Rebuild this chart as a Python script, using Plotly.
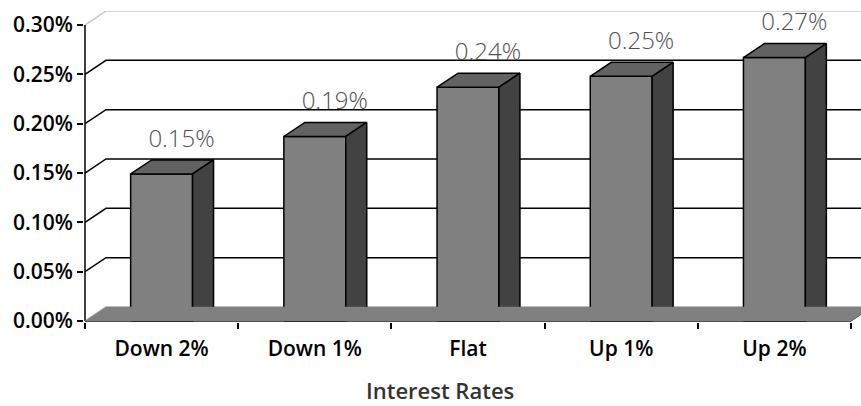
import plotly.graph_objects as go

categories = ["Down 2%", "Down 1%", "Flat", "Up 1%", "Up 2%"]
values = [0.149, 0.187, 0.237, 0.248, 0.267]   # percent
y_ticks = [0.00, 0.05, 0.10, 0.15, 0.20, 0.25, 0.30]
x_title = "Interest Rates"

# ---- geometry (data units) ----
DX = 0.137      # depth offset along x (category units)
DY = 0.0142     # depth offset along y (percent units)
HW = 0.202      # half bar width
X0, X1 = -0.5, len(categories) - 0.5

FRONT = "#808080"
TOP = "#626262"
SIDE = "#424242"
EDGE = "black"
LIGHT = "#c8c8c8"

fig = go.Figure()

def poly(xs, ys, fill, line_color=EDGE, width=1.5, xaxis="x"):
    fig.add_trace(go.Scatter(
        x=xs + [xs[0]], y=ys + [ys[0]], mode="lines", fill="toself",
        fillcolor=fill, line=dict(color=line_color, width=width),
        hoverinfo="skip", showlegend=False, xaxis=xaxis))

def line(xs, ys, color=EDGE, width=1.5):
    fig.add_trace(go.Scatter(x=xs, y=ys, mode="lines",
                             line=dict(color=color, width=width),
                             hoverinfo="skip", showlegend=False))

# floor
poly([X0, X1, X1 + DX, X0 + DX], [0, 0, DY, DY], FRONT, line_color=FRONT, width=0.5, xaxis="x2")

# gridlines (side wall diagonal + back wall)
for t in y_ticks:
    col = LIGHT if (t == y_ticks[0] or t == y_ticks[-1]) else EDGE
    line([X0, X0 + DX, X1 + DX + 0.2], [t, t + DY, t + DY], color=col,
         width=1.5)

# bars
for i, v in enumerate(values):
    poly([i - HW, i + HW, i + HW, i - HW], [0, 0, v, v], FRONT)
    poly([i - HW, i + HW, i + HW + DX, i - HW + DX], [v, v, v + DY, v + DY], TOP)
    poly([i + HW, i + HW + DX, i + HW + DX, i + HW], [0, DY, v + DY, v], SIDE)

# value labels
fig.add_trace(go.Scatter(
    x=[i + 0.13 for i in range(len(values))],
    y=[v + DY + 0.0075 for v in values],
    mode="text", text=[f"{v:.2f}%" for v in values],
    textposition="top center",
    textfont=dict(family="Open Sans", size=24, color="#505050", weight=300),
    hoverinfo="skip", showlegend=False, cliponaxis=False))

# front axis lines
line([X0, X0], [0, y_ticks[-1]])
line([X0, X1], [0, 0])
line([X1, X1 + DX], [0, DY], width=1)

tickfont = dict(family="Open Sans", size=21, color="black", weight=600)

fig.update_layout(
    width=861, height=406,
    margin=dict(l=84, r=0, t=11, b=84),
    paper_bgcolor="white", plot_bgcolor="white",
    xaxis=dict(range=[X0 - 0.0065, X1 + 0.0652], showgrid=False, zeroline=False,
               showline=False, tickmode="array",
               tickvals=[i - 0.5 for i in range(len(categories) + 1)],
               ticks="outside", ticklen=6, tickwidth=1.5, tickcolor="black",
               showticklabels=False),
    xaxis2=dict(range=[X0 - 0.0065, X1 + 0.0652], overlaying="x", anchor="y",
                side="bottom", showgrid=False, zeroline=False, showline=False,
                tickmode="array", tickvals=list(range(len(categories))),
                ticktext=categories, ticks="", tickfont=tickfont,
                ticklabelstandoff=12),
    yaxis=dict(range=[-0.00101, y_ticks[-1] + DY], showgrid=False, zeroline=False,
               showline=False, tickmode="array", tickvals=y_ticks,
               ticktext=[f"{t:.2f}%" for t in y_ticks],
               ticks="outside", ticklen=6, tickwidth=1.5, tickcolor="black",
               tickfont=tickfont),
    annotations=[dict(text=x_title, xref="paper", yref="paper", x=0.458, y=-0.2186,
                      xanchor="center", yanchor="middle", showarrow=False,
                      font=dict(family="Open Sans", size=22, color="#333333", weight=600))],
)

fig.write_html("out.html")
